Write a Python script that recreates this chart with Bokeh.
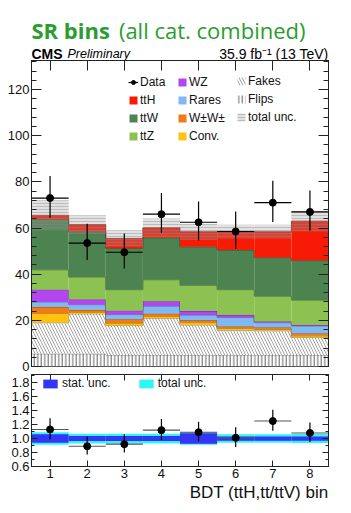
import numpy as np
from bokeh.plotting import figure
from bokeh.models import (ColumnDataSource, Range1d, LinearAxis, FixedTicker,
                          Legend, LegendItem, Label, Title, PrintfTickFormatter)
from bokeh.layouts import column
from bokeh.embed import file_html
from bokeh.resources import INLINE

# ---------------- data ----------------
bins = [1, 2, 3, 4, 5, 6, 7, 8]

flips = [5.5, 5.5, 5.0, 5.0, 5.0, 5.0, 5.0, 5.0]
fakes = [13.5, 17.3, 12.8, 15.9, 13.0, 10.7, 10.5, 7.6]
conv = [4.0, 0.7, 1.0, 0.8, 1.0, 0.8, 0.5, 0.7]
wpwp = [2.8, 1.0, 1.7, 1.2, 1.0, 0.8, 0.9, 1.0]
rares = [2.2, 2.3, 2.0, 3.3, 2.3, 3.9, 2.1, 3.3]
wz = [5.3, 2.2, 1.7, 2.1, 1.7, 1.1, 0.5, 0.4]
ttz = [8.6, 9.8, 9.1, 9.3, 11.2, 11.0, 11.0, 10.8]
ttw = [21.8, 19.6, 17.9, 18.2, 16.7, 17.2, 16.7, 17.1]
tth = [1.8, 3.1, 4.3, 4.3, 6.5, 7.9, 11.2, 17.1]
total_unc = [6.5, 4.0, 3.5, 4.0, 3.5, 3.0, 3.0, 4.5]

data = [73.0, 53.5, 49.5, 66.0, 62.5, 58.5, 71.0, 67.0]
data_err_lo = [8.5, 7.3, 7.0, 8.1, 7.9, 7.6, 8.4, 8.2]
data_err_hi = [9.6, 8.4, 8.1, 9.2, 9.0, 8.7, 9.5, 9.3]

ratio = [1.13, 0.89, 0.92, 1.12, 1.09, 1.01, 1.25, 1.08]
ratio_err_lo = [0.14, 0.12, 0.12, 0.14, 0.13, 0.13, 0.14, 0.13]
ratio_err_hi = [0.16, 0.14, 0.14, 0.16, 0.15, 0.15, 0.16, 0.15]
ratio_stat = [0.06, 0.035, 0.035, 0.035, 0.075, 0.03, 0.03, 0.03]
ratio_total = [0.09, 0.07, 0.07, 0.07, 0.09, 0.06, 0.06, 0.065]

main_y_ticks = [0, 20, 40, 60, 80, 100, 120]
main_y_minor = list(range(0, 133, 4))
ratio_y_ticks = [0.6, 0.8, 1.0, 1.2, 1.4, 1.6, 1.8]
ratio_y_minor = [0.7, 0.9, 1.1, 1.3, 1.5, 1.7, 1.9]

title_bold = "SR bins"
title_rest = "(all cat. combined)"
cms_text = "CMS"
prelim_text = "Preliminary"
lumi_text = "35.9 fb\u207b\u00b9 (13 TeV)"
x_title = "BDT (ttH,tt/ttV) bin"

FONT = "Liberation Sans"
AX = "#222222"
W = 351
BL, BR = 31, 23
HDR_H = 60

# ---------------- helpers ----------------
def style_axis(ax, labels=True, size="13px", tin=10, minin=5):
    ax.major_tick_in = tin
    ax.major_tick_out = 0
    ax.minor_tick_in = minin
    ax.minor_tick_out = 0
    ax.axis_line_color = AX
    ax.major_tick_line_color = AX
    ax.minor_tick_line_color = AX
    if labels:
        ax.major_label_text_font = FONT
        ax.major_label_text_font_size = size
        ax.major_label_text_color = "#111111"
        ax.major_label_standoff = 2
    else:
        ax.major_label_text_font_size = "0px"
        ax.major_label_standoff = 0

x = np.array(bins, dtype=float)
left = x - 0.5
right = x + 0.5
edges = np.append(left, right[-1])
xr = Range1d(0.5, 8.5)

# ---------------- header (texts only) ----------------
hdr = figure(width=W, height=HDR_H, x_range=xr, y_range=Range1d(HDR_H, 0),
             output_backend="svg", toolbar_location=None,
             x_axis_location=None, y_axis_location=None,
             min_border_left=BL, min_border_right=BR, min_border_top=0, min_border_bottom=0)
hdr.xgrid.visible = False
hdr.ygrid.visible = False
hdr.outline_line_color = None
hdr.add_layout(Label(x=0.5, y=29, text=title_bold, text_font="Open Sans",
                     text_font_style="bold", text_font_size="22px", text_color="#2a9d2f",
                     text_align="left", text_baseline="alphabetic"))
hdr.add_layout(Label(x=7.88, y=29, text=title_rest, text_font="Open Sans",
                     text_font_style="normal", text_font_size="22px", text_color="#2a9d2f",
                     text_align="right", text_baseline="alphabetic"))
hdr.add_layout(Label(x=0.5, y=53, text=cms_text, text_font=FONT, text_font_style="bold",
                     text_font_size="14px", text_color="black", text_baseline="alphabetic"))
hdr.add_layout(Label(x=1.47, y=53, text=prelim_text, text_font=FONT,
                     text_font_style="italic", text_font_size="12.5px", text_color="black",
                     text_baseline="alphabetic"))
hdr.add_layout(Label(x=8.5, y=53, text=lumi_text, text_font=FONT,
                     text_font_size="14px", text_color="black", text_align="right",
                     text_baseline="alphabetic"))

# ---------------- main panel ----------------
p = figure(width=W, height=306 + 8,
           x_range=xr, y_range=Range1d(0, 132.6),
           output_backend="svg", toolbar_location=None,
           x_axis_location="above",
           min_border_left=BL, min_border_right=BR,
           min_border_top=0, min_border_bottom=8)
p.xgrid.visible = False
p.ygrid.visible = False
p.outline_line_color = AX
p.outline_line_width = 1

p.xaxis.ticker = FixedTicker(ticks=bins, minor_ticks=[])
style_axis(p.xaxis[0], labels=False, tin=10)
p.yaxis.ticker = FixedTicker(ticks=main_y_ticks, minor_ticks=main_y_minor)
style_axis(p.yaxis[0], labels=True, size="13px", tin=10, minin=5)
ry = LinearAxis(ticker=FixedTicker(ticks=main_y_ticks, minor_ticks=main_y_minor))
style_axis(ry, labels=False, tin=10, minin=5)
p.add_layout(ry, "right")

layers = [
    ("Flips", flips, dict(fill_color="white", hatch_pattern="vertical_line",
                          hatch_color="#555555", hatch_scale=3.5, hatch_weight=0.9), "#555555"),
    ("Fakes", fakes, dict(fill_color="white", hatch_pattern="left_diagonal_line",
                          hatch_color="#9a9a9a", hatch_scale=6, hatch_weight=0.9), "#666666"),
    ("Conv.", conv, dict(fill_color="#ffc20e"), "#8a6a00"),
    ("W\u00b1W\u00b1", wpwp, dict(fill_color="#f07b16"), "#7a3c00"),
    ("Rares", rares, dict(fill_color="#80b8f2"), "#3a5e80"),
    ("WZ", wz, dict(fill_color="#b446ef"), "#5a2080"),
    ("ttZ", ttz, dict(fill_color="#8bc251"), "#3d5c20"),
    ("ttW", ttw, dict(fill_color="#4d8251"), "#20402a"),
    ("ttH", tth, dict(fill_color="#f71b05"), "#7a0d00"),
]

renderers = {}
bottom = np.zeros(len(bins))
for name, vals, style, lc in layers:
    top = bottom + np.array(vals)
    src = ColumnDataSource(dict(left=left, right=right, bottom=bottom, top=top))
    r = p.quad(left="left", right="right", bottom="bottom", top="top", source=src,
               line_color=None, **style)
    p.step(x=edges, y=np.append(top, top[-1]), mode="after",
           line_color=lc, line_width=0.9, line_alpha=0.8)
    renderers[name] = r
    bottom = top
total = bottom

unc_src = ColumnDataSource(dict(left=left, right=right,
                                bottom=total - np.array(total_unc),
                                top=total + np.array(total_unc)))
r_unc = p.quad(left="left", right="right", bottom="bottom", top="top", source=unc_src,
               fill_color="#9a9a9a", fill_alpha=0.3, line_color=None,
               hatch_pattern="horizontal_line", hatch_color="#8a8a8a",
               hatch_scale=3, hatch_weight=0.7, hatch_alpha=0.6)

d = np.array(data)
dsrc = ColumnDataSource(dict(x=x, y=d, lo=d - np.array(data_err_lo),
                             hi=d + np.array(data_err_hi), l=left, r=right))
r_v = p.segment(x0="x", y0="lo", x1="x", y1="hi", source=dsrc, line_color="black", line_width=1.2)
r_h = p.segment(x0="l", y0="y", x1="r", y1="y", source=dsrc, line_color="black", line_width=1.2)
r_pt = p.scatter(x="x", y="y", source=dsrc, size=7, color="black")

leg_common = dict(background_fill_alpha=0, border_line_alpha=0, padding=0, margin=0,
                  spacing=4, glyph_width=10, glyph_height=10, label_height=12,
                  label_standoff=2, label_text_font=FONT, label_text_font_size="12px",
                  label_text_color="#111111")

leg1 = Legend(items=[LegendItem(label="Data", renderers=[r_h, r_pt]),
                     LegendItem(label="ttH", renderers=[renderers["ttH"]]),
                     LegendItem(label="ttW", renderers=[renderers["ttW"]]),
                     LegendItem(label="ttZ", renderers=[renderers["ttZ"]])],
              location=(97, 223), **leg_common)
leg2 = Legend(items=[LegendItem(label="WZ", renderers=[renderers["WZ"]]),
                     LegendItem(label="Rares", renderers=[renderers["Rares"]]),
                     LegendItem(label="W\u00b1W\u00b1", renderers=[renderers["W\u00b1W\u00b1"]]),
                     LegendItem(label="Conv.", renderers=[renderers["Conv."]])],
              location=(146, 223), **leg_common)
leg3 = Legend(items=[LegendItem(label="Fakes", renderers=[renderers["Fakes"]]),
                     LegendItem(label="Flips", renderers=[renderers["Flips"]]),
                     LegendItem(label="total unc.", renderers=[r_unc])],
              location=(205, 242), **leg_common)
for lg in (leg1, leg2, leg3):
    p.add_layout(lg)

# ---------------- ratio panel ----------------
p2 = figure(width=W, height=92 + 42,
            x_range=xr, y_range=Range1d(0.6, 1.916),
            output_backend="svg", toolbar_location=None,
            min_border_left=BL, min_border_right=BR,
            min_border_top=0, min_border_bottom=42)
p2.xgrid.visible = False
p2.ygrid.visible = False
p2.outline_line_color = AX
p2.outline_line_width = 1

p2.xaxis.ticker = FixedTicker(ticks=bins, minor_ticks=[])
style_axis(p2.xaxis[0], labels=True, size="13px", tin=6)
tx = LinearAxis(ticker=FixedTicker(ticks=bins, minor_ticks=[]))
style_axis(tx, labels=False, tin=6)
p2.add_layout(tx, "above")
p2.yaxis.ticker = FixedTicker(ticks=ratio_y_ticks, minor_ticks=ratio_y_minor)
p2.yaxis.formatter = PrintfTickFormatter(format="%.1f")
style_axis(p2.yaxis[0], labels=True, size="13px", tin=6, minin=3)
ry2 = LinearAxis(ticker=FixedTicker(ticks=ratio_y_ticks, minor_ticks=ratio_y_minor))
style_axis(ry2, labels=False, tin=6, minin=3)
p2.add_layout(ry2, "right")

tot_src = ColumnDataSource(dict(left=left, right=right,
                                bottom=1 - np.array(ratio_total), top=1 + np.array(ratio_total)))
stat_src = ColumnDataSource(dict(left=left, right=right,
                                 bottom=1 - np.array(ratio_stat), top=1 + np.array(ratio_stat)))
r_tot = p2.quad(left="left", right="right", bottom="bottom", top="top", source=tot_src,
                fill_color="#2ef6f6", line_color=None)
r_stat = p2.quad(left="left", right="right", bottom="bottom", top="top", source=stat_src,
                 fill_color="#3535f5", line_color=None)

rt = np.array(ratio)
rsrc = ColumnDataSource(dict(x=x, y=rt, lo=rt - np.array(ratio_err_lo),
                             hi=rt + np.array(ratio_err_hi), l=left, r=right))
p2.segment(x0="l", y0="y", x1="r", y1="y", source=rsrc, line_color="#555555", line_width=1.1)
p2.segment(x0="x", y0="lo", x1="x", y1="hi", source=rsrc, line_color="black", line_width=1.2)
p2.scatter(x="x", y="y", source=rsrc, size=7, color="black")

leg_r = Legend(items=[LegendItem(label="stat. unc.", renderers=[r_stat]),
                      LegendItem(label="total unc.", renderers=[r_tot])],
               orientation="horizontal", location=(10, 76),
               background_fill_alpha=0, border_line_alpha=0, padding=0, margin=0,
               spacing=26, glyph_width=18, glyph_height=11, label_height=12,
               label_standoff=3, label_text_font=FONT, label_text_font_size="12px",
               label_text_color="#111111")
p2.add_layout(leg_r)

p2.add_layout(Title(text=x_title, align="right", standoff=0, text_font=FONT,
                    text_font_size="17px", text_font_style="normal",
                    text_color="#111111"), "below")

layout = column(hdr, p, p2, spacing=0)
open("out.html", "w").write(file_html(layout, INLINE))
